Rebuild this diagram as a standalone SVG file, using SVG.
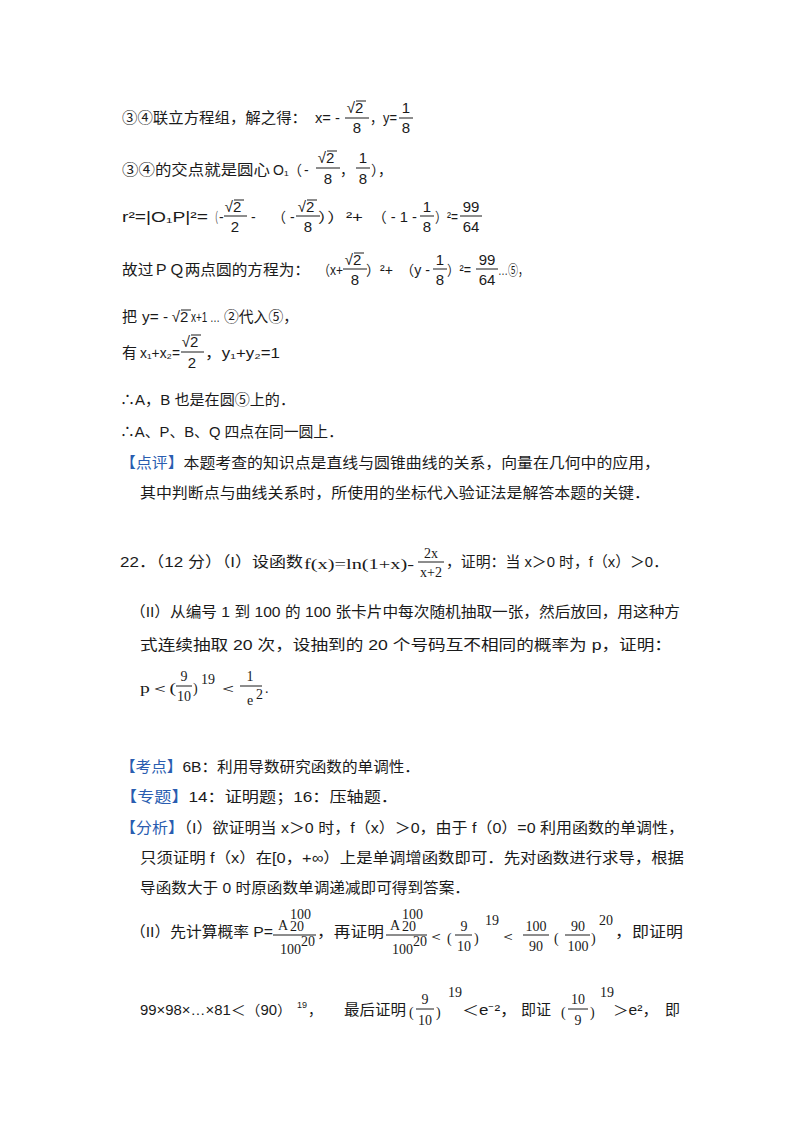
<svg xmlns="http://www.w3.org/2000/svg" width="800" height="1132" viewBox="0 0 800 1132">
<style>
text{fill:#1a1a1a}
.t{font-family:"Liberation Sans","Noto Sans CJK SC",sans-serif;font-size:15px}
.m{font-family:"Liberation Sans","Noto Sans CJK SC",sans-serif;font-size:14px}
.f{font-family:"Liberation Sans",sans-serif;font-size:15px;text-anchor:middle}
.s{font-family:"Liberation Serif",serif;font-size:14px}
.sc{font-family:"Liberation Serif",serif;font-size:14px;text-anchor:middle}
.sup{font-family:"Liberation Sans",sans-serif;font-size:9px}
.b{fill:#2a5db0}
line{stroke:#1a1a1a;stroke-width:1}
</style>
<rect width="800" height="1132" fill="#fff"/>
<g id="l1">
<text class="t" x="122" y="123" textLength="185" lengthAdjust="spacingAndGlyphs">③④联立方程组，解之得：</text>
<text class="m" x="315" y="123" textLength="25" lengthAdjust="spacingAndGlyphs">x= -</text>
<text class="f" x="355" y="113">√2</text><line x1="356" y1="101" x2="366" y2="101"/><line x1="345" y1="118" x2="369" y2="118"/><text class="f" x="357" y="133">8</text>
<text class="m" x="370" y="123" textLength="27" lengthAdjust="spacingAndGlyphs">，y=</text>
<text class="f" x="406" y="113">1</text><line x1="399" y1="118" x2="413" y2="118"/><text class="f" x="406" y="133">8</text>
</g>
<g id="l2">
<text class="t" x="122" y="175" textLength="148" lengthAdjust="spacingAndGlyphs">③④的交点就是圆心</text>
<text class="m" x="273" y="175">O₁</text>
<text class="m" x="288" y="175">（</text><text class="m" x="304" y="175">-</text>
<text class="f" x="326" y="163">√2</text><line x1="327" y1="151" x2="337" y2="151"/><line x1="316" y1="168" x2="340" y2="168"/><text class="f" x="328" y="184">8</text>
<text class="m" x="340" y="175">，</text>
<text class="f" x="363" y="163">1</text><line x1="356" y1="168" x2="370" y2="168"/><text class="f" x="363" y="184">8</text>
<text class="m" x="371" y="175">），</text>
</g>
<g id="l3">
<text class="m" x="122" y="222" textLength="86" lengthAdjust="spacingAndGlyphs">r²=|O₁P|²=</text>
<text class="m" x="211" y="222" textLength="7" lengthAdjust="spacingAndGlyphs">（</text><text class="m" x="219" y="222">-</text>
<text class="f" x="233" y="212">√2</text><line x1="234" y1="200" x2="244" y2="200"/><line x1="224" y1="216" x2="247" y2="216"/><text class="f" x="235" y="232">2</text>
<text class="m" x="251" y="222">-</text><text class="m" x="272" y="222">（ -</text>
<text class="f" x="306" y="212">√2</text><line x1="307" y1="200" x2="317" y2="200"/><line x1="296" y1="216" x2="320" y2="216"/><text class="f" x="308" y="232">8</text>
<text class="m" x="318" y="222" textLength="45" lengthAdjust="spacingAndGlyphs">））²+</text>
<text class="m" x="372" y="222" textLength="45" lengthAdjust="spacingAndGlyphs">（ - 1 -</text>
<text class="f" x="427" y="212">1</text><line x1="420" y1="216" x2="434" y2="216"/><text class="f" x="427" y="232">8</text>
<text class="m" x="435" y="222" textLength="23" lengthAdjust="spacingAndGlyphs">）²=</text>
<text class="f" x="471" y="212">99</text><line x1="460" y1="216" x2="482" y2="216"/><text class="f" x="471" y="232">64</text>
</g>
<g id="l4">
<text class="t" x="122" y="275" textLength="188" lengthAdjust="spacingAndGlyphs">故过ＰＱ两点圆的方程为：</text>
<text class="m" x="318" y="275" textLength="25" lengthAdjust="spacingAndGlyphs">（x+</text>
<text class="f" x="353" y="265">√2</text><line x1="354" y1="253" x2="364" y2="253"/><line x1="343" y1="269" x2="367" y2="269"/><text class="f" x="355" y="285">8</text>
<text class="m" x="366" y="275" textLength="27" lengthAdjust="spacingAndGlyphs">）²+</text>
<text class="m" x="400" y="275" textLength="30" lengthAdjust="spacingAndGlyphs">（y -</text>
<text class="f" x="440" y="265">1</text><line x1="433" y1="269" x2="447" y2="269"/><text class="f" x="440" y="285">8</text>
<text class="m" x="447" y="275" textLength="24" lengthAdjust="spacingAndGlyphs">）²=</text>
<text class="f" x="487" y="265">99</text><line x1="476" y1="269" x2="498" y2="269"/><text class="f" x="487" y="285">64</text>
<text class="m" x="498" y="275" textLength="30" lengthAdjust="spacingAndGlyphs">…⑤，</text>
</g>
<g id="l5">
<text class="t" x="122" y="322">把</text>
<text class="m" x="142" y="322" textLength="26" lengthAdjust="spacingAndGlyphs">y= -</text>
<text class="f" x="180" y="322">√2</text><line x1="181" y1="310" x2="191" y2="310"/>
<text class="m" x="191" y="322" textLength="29" lengthAdjust="spacingAndGlyphs">x+1 …</text>
<text class="t" x="224" y="322" textLength="74" lengthAdjust="spacingAndGlyphs">②代入⑤，</text>
</g>
<g id="l6">
<text class="t" x="122" y="358">有</text>
<text class="m" x="140" y="358" textLength="40" lengthAdjust="spacingAndGlyphs">x₁+x₂=</text>
<text class="f" x="190" y="347">√2</text><line x1="191" y1="335" x2="201" y2="335"/><line x1="181" y1="352" x2="204" y2="352"/><text class="f" x="192" y="368">2</text>
<text class="m" x="205" y="358" textLength="75" lengthAdjust="spacingAndGlyphs">，y₁+y₂=1</text>
</g>
<text class="t" x="120" y="405" textLength="175" lengthAdjust="spacingAndGlyphs">∴A，B 也是在圆⑤上的．</text>
<text class="t" x="120" y="437" textLength="223" lengthAdjust="spacingAndGlyphs">∴A、P、B、Q 四点在同一圆上．</text>
<text class="t" x="120" y="468" textLength="540" lengthAdjust="spacingAndGlyphs"><tspan class="b">【点评】</tspan>本题考查的知识点是直线与圆锥曲线的关系，向量在几何中的应用，</text>
<text class="t" x="140" y="498" textLength="510" lengthAdjust="spacingAndGlyphs">其中判断点与曲线关系时，所使用的坐标代入验证法是解答本题的关键．</text>
<g id="q22">
<text class="t" x="120" y="567" textLength="183" lengthAdjust="spacingAndGlyphs">22．（12 分）（I）设函数</text>
<text class="s" x="304" y="569" textLength="110" lengthAdjust="spacingAndGlyphs">f(x)=ln(1+x)-</text>
<text class="sc" x="431" y="558">2x</text><line x1="418" y1="562" x2="444" y2="562"/><text class="sc" x="431" y="577">x+2</text>
<text class="t" x="446" y="567" textLength="222" lengthAdjust="spacingAndGlyphs">，证明：当 x＞0 时，f（x）＞0．</text>
<text class="t" x="130" y="617" textLength="550" lengthAdjust="spacingAndGlyphs">（II）从编号 1 到 100 的 100 张卡片中每次随机抽取一张，然后放回，用这种方</text>
<text class="t" x="140" y="650" textLength="532" lengthAdjust="spacingAndGlyphs">式连续抽取 20 次，设抽到的 20 个号码互不相同的概率为 p，证明：</text>
<text class="s" x="140" y="693" textLength="36" lengthAdjust="spacingAndGlyphs">p＜(</text>
<text class="sc" x="184" y="681">9</text><line x1="176" y1="686" x2="192" y2="686"/><text class="sc" x="184" y="701">10</text>
<text class="s" x="193" y="693">)</text><text class="s" x="201" y="684" font-size="12">19</text>
<text class="s" x="218" y="693" textLength="20" lengthAdjust="spacingAndGlyphs">＜</text>
<text class="sc" x="250" y="681">1</text><line x1="240" y1="686" x2="262" y2="686"/><text class="sc" x="250" y="705">e</text><text class="s" x="256" y="699" font-size="10">2</text>
<text class="s" x="265" y="693">.</text>
</g>
<g id="analysis">
<text class="t" x="120" y="772" textLength="300" lengthAdjust="spacingAndGlyphs"><tspan class="b">【考点】</tspan>6B：利用导数研究函数的单调性．</text>
<text class="t" x="120" y="802" textLength="278" lengthAdjust="spacingAndGlyphs"><tspan class="b">【专题】</tspan>14：证明题；16：压轴题．</text>
<text class="t" x="120" y="833" textLength="564" lengthAdjust="spacingAndGlyphs"><tspan class="b">【分析】</tspan>（I）欲证明当 x＞0 时，f（x）＞0，由于 f（0）=0 利用函数的单调性，</text>
<text class="t" x="140" y="863" textLength="544" lengthAdjust="spacingAndGlyphs">只须证明 f（x）在[0，+∞）上是单调增函数即可．先对函数进行求导，根据</text>
<text class="t" x="140" y="893" textLength="330" lengthAdjust="spacingAndGlyphs">导函数大于 0 时原函数单调递减即可得到答案．</text>
</g>
<g id="l20">
<text class="t" x="130" y="937" textLength="143" lengthAdjust="spacingAndGlyphs">（II）先计算概率 P=</text>
<text class="s" x="278" y="930">A</text><text class="s" x="290" y="919" font-size="11">100</text><text class="s" x="290" y="931" font-size="11">20</text>
<line x1="273" y1="935" x2="316" y2="935"/>
<text class="s" x="280" y="954">100</text><text class="s" x="301" y="946" font-size="11">20</text>
<text class="t" x="317" y="937" textLength="67" lengthAdjust="spacingAndGlyphs">，再证明</text>
<text class="s" x="390" y="930">A</text><text class="s" x="402" y="919" font-size="11">100</text><text class="s" x="402" y="931" font-size="11">20</text>
<line x1="386" y1="935" x2="427" y2="935"/>
<text class="s" x="392" y="954">100</text><text class="s" x="413" y="946" font-size="11">20</text>
<text class="s" x="428" y="941" textLength="16" lengthAdjust="spacingAndGlyphs">＜</text>
<text class="s" x="447" y="943">(</text>
<text class="sc" x="464" y="931">9</text><line x1="455" y1="935" x2="472" y2="935"/><text class="sc" x="464" y="951">10</text>
<text class="s" x="474" y="943">)</text><text class="s" x="485" y="925" font-size="11">19</text>
<text class="s" x="500" y="941" textLength="16" lengthAdjust="spacingAndGlyphs">＜</text>
<text class="sc" x="536" y="931">100</text><line x1="523" y1="935" x2="549" y2="935"/><text class="sc" x="536" y="951">90</text>
<text class="s" x="554" y="943">(</text>
<text class="sc" x="578" y="931">90</text><line x1="565" y1="935" x2="590" y2="935"/><text class="sc" x="578" y="951">100</text>
<text class="s" x="591" y="943">)</text><text class="s" x="599" y="925" font-size="11">20</text>
<text class="t" x="615" y="937" textLength="68" lengthAdjust="spacingAndGlyphs">，即证明</text>
</g>
<g id="l21">
<text class="m" x="140" y="1015" textLength="152" lengthAdjust="spacingAndGlyphs">99×98×…×81＜（90）</text><text class="sup" x="297" y="1008">19</text><text class="m" x="308" y="1015">，</text>
<text class="t" x="344" y="1015" textLength="62" lengthAdjust="spacingAndGlyphs">最后证明</text>
<text class="s" x="409" y="1017">(</text>
<text class="sc" x="425" y="1004">9</text><line x1="416" y1="1009" x2="434" y2="1009"/><text class="sc" x="425" y="1025">10</text>
<text class="s" x="436" y="1017">)</text><text class="s" x="448" y="997" font-size="11">19</text>
<text class="m" x="462" y="1015" textLength="55" lengthAdjust="spacingAndGlyphs">＜e⁻²，</text>
<text class="t" x="521" y="1015">即证</text>
<text class="s" x="561" y="1017">(</text>
<text class="sc" x="578" y="1004">10</text><line x1="568" y1="1009" x2="588" y2="1009"/><text class="sc" x="578" y="1025">9</text>
<text class="s" x="590" y="1017">)</text><text class="s" x="600" y="997" font-size="11">19</text>
<text class="m" x="613" y="1015" textLength="45" lengthAdjust="spacingAndGlyphs">＞e²，</text>
<text class="t" x="665" y="1015">即</text>
</g>
</svg>
